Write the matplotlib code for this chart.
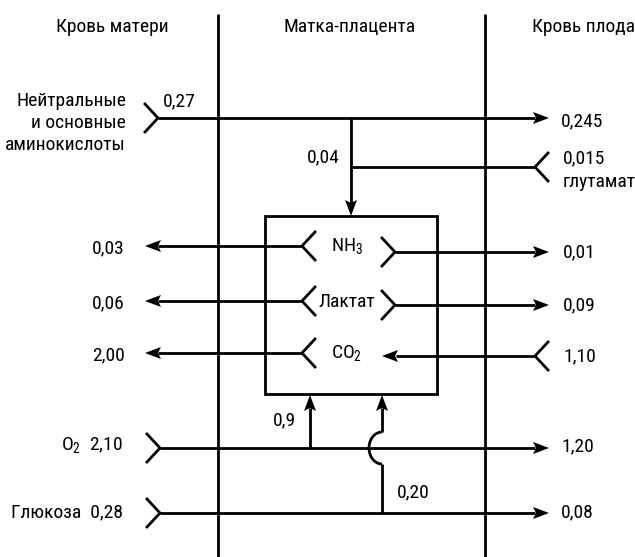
import matplotlib
matplotlib.use('Agg')
import matplotlib.pyplot as plt
import matplotlib.font_manager as fm
from matplotlib.patches import Polygon, Rectangle, Arc

NARROW = ['Liberation Sans Narrow', 'Roboto Condensed', 'DejaVu Sans Condensed', 'Liberation Sans', 'DejaVu Sans']
available = {f.name for f in fm.fontManager.ttflist}
FONT = next((n for n in NARROW if n in available), 'DejaVu Sans')
plt.rcParams['font.family'] = [FONT, 'DejaVu Sans']
plt.rcParams['mathtext.fontset'] = 'custom'
plt.rcParams['mathtext.rm'] = FONT

# data
headers = ['Кровь матери', 'Матка-плацента', 'Кровь плода']
amino_in, amino_out, amino_to_uterus, glutamate = '0,27', '0,245', '0,04', '0,015'
box_species = [r'NH$_\mathregular{3}$', 'Лактат', r'CO$_\mathregular{2}$']
box_to_mother = ['0,03', '0,06', '2,00']
box_fetus = ['0,01', '0,09', '1,10']
o2_in, o2_out, o2_used = '2,10', '1,20', '0,9'
glu_in, glu_out, glu_used = '0,28', '0,08', '0,20'

W, H = 635, 557
fig = plt.figure(figsize=(W / 100, H / 100), dpi=100)
ax = fig.add_axes([0, 0, 1, 1])
ax.set_xlim(0, W)
ax.set_ylim(H, 0)
ax.axis('off')

LW = 2.0
FS = 14
K = 'black'


def line(x, y):
    ax.plot(x, y, color=K, lw=LW, solid_capstyle='butt')


def head(x, y, d):
    # filled arrowhead with tip at (x, y); d = 'r', 'l', 'u', 'd'
    L, w, n = 16, 6, 13
    pts = {'r': [(x, y), (x - L, y - w), (x - n, y), (x - L, y + w)],
           'l': [(x, y), (x + L, y - w), (x + n, y), (x + L, y + w)],
           'u': [(x, y), (x - w, y + L), (x, y + n), (x + w, y + L)],
           'd': [(x, y), (x - w, y - L), (x, y - n), (x + w, y - L)]}[d]
    ax.add_patch(Polygon(pts, closed=True, color=K, lw=0))


def chevron(x, y, d):
    # open chevron, tip at (x, y); '>' for 'r', '<' for 'l'
    s = -13 if d == 'r' else 13
    ax.plot([x + s, x, x + s], [y - 14, y, y + 14], color=K, lw=LW,
            solid_joinstyle='miter')


def txt(x, y, s, ha='center', va='center', **kw):
    ax.text(x, y, s, ha=ha, va=va, fontsize=FS, color=K, **kw)


# column separators
line([218, 218], [14, H])
line([485, 485], [14, H])
for x, s in zip([112, 350, 583], headers):
    txt(x, 27, s)

# amino acids
y = 118
chevron(158, y, 'r')
line([158, 535], [y, y])
head(549, y, 'r')
txt(126, 101, 'Нейтральные', ha='right')
txt(126, 123, 'и основные', ha='right')
txt(126, 145, 'аминокислоты', ha='right')
txt(163, 101, amino_in, ha='left')
txt(561, 121, amino_out, ha='left')
# branch to uterus + glutamate
line([351, 351], [y, 203])
head(351, 216, 'd')
line([351, 535], [167, 167])
chevron(535, 167, 'l')
txt(340, 157, amino_to_uterus, ha='right')
txt(563, 158, glutamate, ha='left')
txt(563, 182, 'глутамат', ha='left')

# placenta box
ax.add_patch(Rectangle((265, 216), 172, 178, fill=False, ec=K, lw=LW))

rows = [246, 301, 353]
shift = [6, 4, 3]
for i, yy in enumerate(rows):
    chevron(302, yy, 'l')
    line([158, 302], [yy, yy])
    head(145, yy, 'l')
    txt(125, yy + 2, box_to_mother[i], ha='right')
    txt(347, yy + 1, box_species[i])
    yr = yy + shift[i]
    txt(563, yr, box_fetus[i], ha='left')
    if i < 2:
        chevron(395, yr, 'r')
        line([395, 535], [yr, yr])
        head(549, yr, 'r')
    else:
        chevron(535, yr, 'l')
        line([396, 535], [yr, yr])
        head(382, yr, 'l')

# O2
y = 448
chevron(160, y, 'r')
line([160, 535], [y, y])
head(549, y, 'r')
txt(123, y - 2, r'O$_\mathregular{2}$' + '  ' + o2_in, ha='right')
txt(561, y - 2, o2_out, ha='left')
line([310, 310], [y, 408])
head(310, 395, 'u')
txt(296, 420, o2_used, ha='right')

# glucose
y = 513
chevron(160, y, 'r')
line([160, 535], [y, y])
head(549, y, 'r')
txt(123, y - 1, 'Глюкоза  ' + glu_in, ha='right')
txt(561, y - 1, glu_out, ha='left')
line([382, 382], [y, 464])
ax.add_patch(Arc((382, 448), 26, 32, theta1=90, theta2=270, color=K, lw=LW))
line([382, 382], [432, 408])
head(382, 395, 'u')
txt(397, 492, glu_used, ha='left')

fig.savefig('out.png', dpi=100, facecolor='white')
